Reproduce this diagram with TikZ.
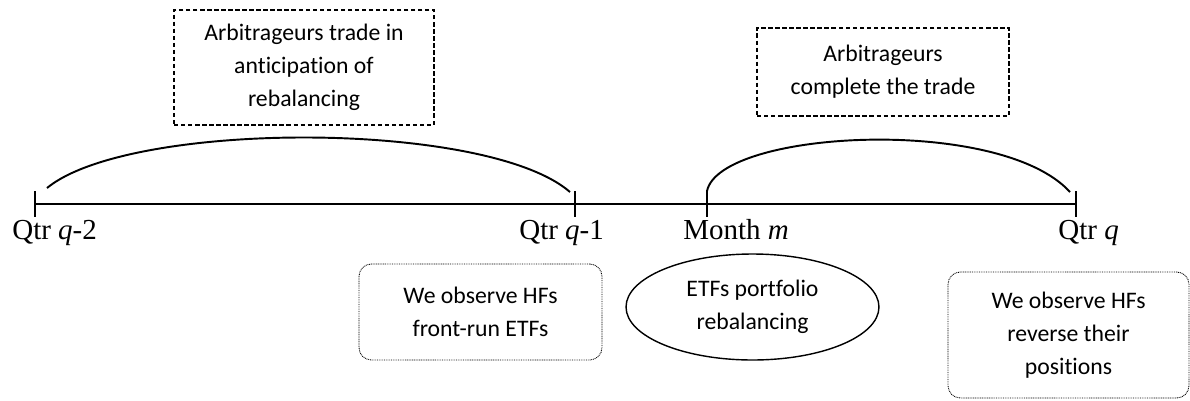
\documentclass[tikz,border=0pt]{standalone}
\usepackage{fontspec}
\setmainfont{Liberation Serif}
\newfontfamily\boxfont[Ligatures=NoCommon]{Carlito}
\usepackage{tikz}
\usetikzlibrary{shapes.geometric}

\tikzset{
	boxtext/.style={align=center, inner sep=0pt, font=\boxfont\fontsize{13.5}{18.8}\selectfont},
	dashbox/.style={boxtext, draw, line width=0.7pt, dash pattern=on 2.5pt off 1.5pt},
	dotbox/.style={boxtext, draw, line width=0.5pt, dash pattern=on 0.5pt off 0.5pt, rounded corners=7pt},
	ovalbox/.style={boxtext, draw, ellipse, line width=0.8pt},
	timelabel/.style={anchor=base west, inner sep=0pt, font=\fontsize{16.5}{19}\selectfont},
	tick/.style={line width=1.1pt},
	arc/.style={line width=1.1pt}
}

\begin{document}
\begin{tikzpicture}[x=0.02cm,y=-0.02cm]
	\useasboundingbox (0,0) rectangle (1190,400);
	\coordinate (q2) at (35,204);
	\coordinate (q1) at (575,204);
	\coordinate (m) at (707,204);
	\coordinate (q) at (1076,204);
	\draw[line width=1.5pt] (q2)--(q);
	\foreach \t in {q2,q1,m,q}
		\draw[tick] (\t) ++(0,-13) -- ++(0,26);
	\node[timelabel] (lq2) at (12,239) {Qtr \textit{q}-2};
	\node[timelabel] (lq1) at (519,239) {Qtr \textit{q}-1};
	\node[timelabel] (lm) at (683,239) {Month \textit{m}};
	\node[timelabel] (lq) at (1058,239) {Qtr \textit{q}};
	\coordinate (a1) at (47,188);
	\coordinate (b1) at (570,192);
	\coordinate (a2) at (707,191);
	\coordinate (b2) at (1070,192);
	\draw[arc] (a1) .. controls (130,120) and (487,120) .. (b1);
	\draw[arc] (a2) .. controls (720,130) and (1000,115) .. (b2);
	\node[dashbox, minimum width=5.2cm, minimum height=2.3cm] (pre) at (304,67.5) {Arbitrageurs trade in\\anticipation of\\rebalancing};
	\node[dashbox, minimum width=5.04cm, minimum height=1.76cm] (post) at (883,72) {Arbitrageurs\\complete the trade};
	\node[dotbox, minimum width=4.86cm, minimum height=1.92cm] (front) at (480.5,312) {We observe HFs\\front-run ETFs};
	\node[ovalbox, minimum width=5.06cm, minimum height=2.12cm] (rebal) at (752.5,307) {ETFs portfolio\\rebalancing};
	\node[dotbox, minimum width=4.82cm, minimum height=2.52cm] (rev) at (1068.5,335) {We observe HFs\\reverse their\\positions};
\end{tikzpicture}
\end{document}
